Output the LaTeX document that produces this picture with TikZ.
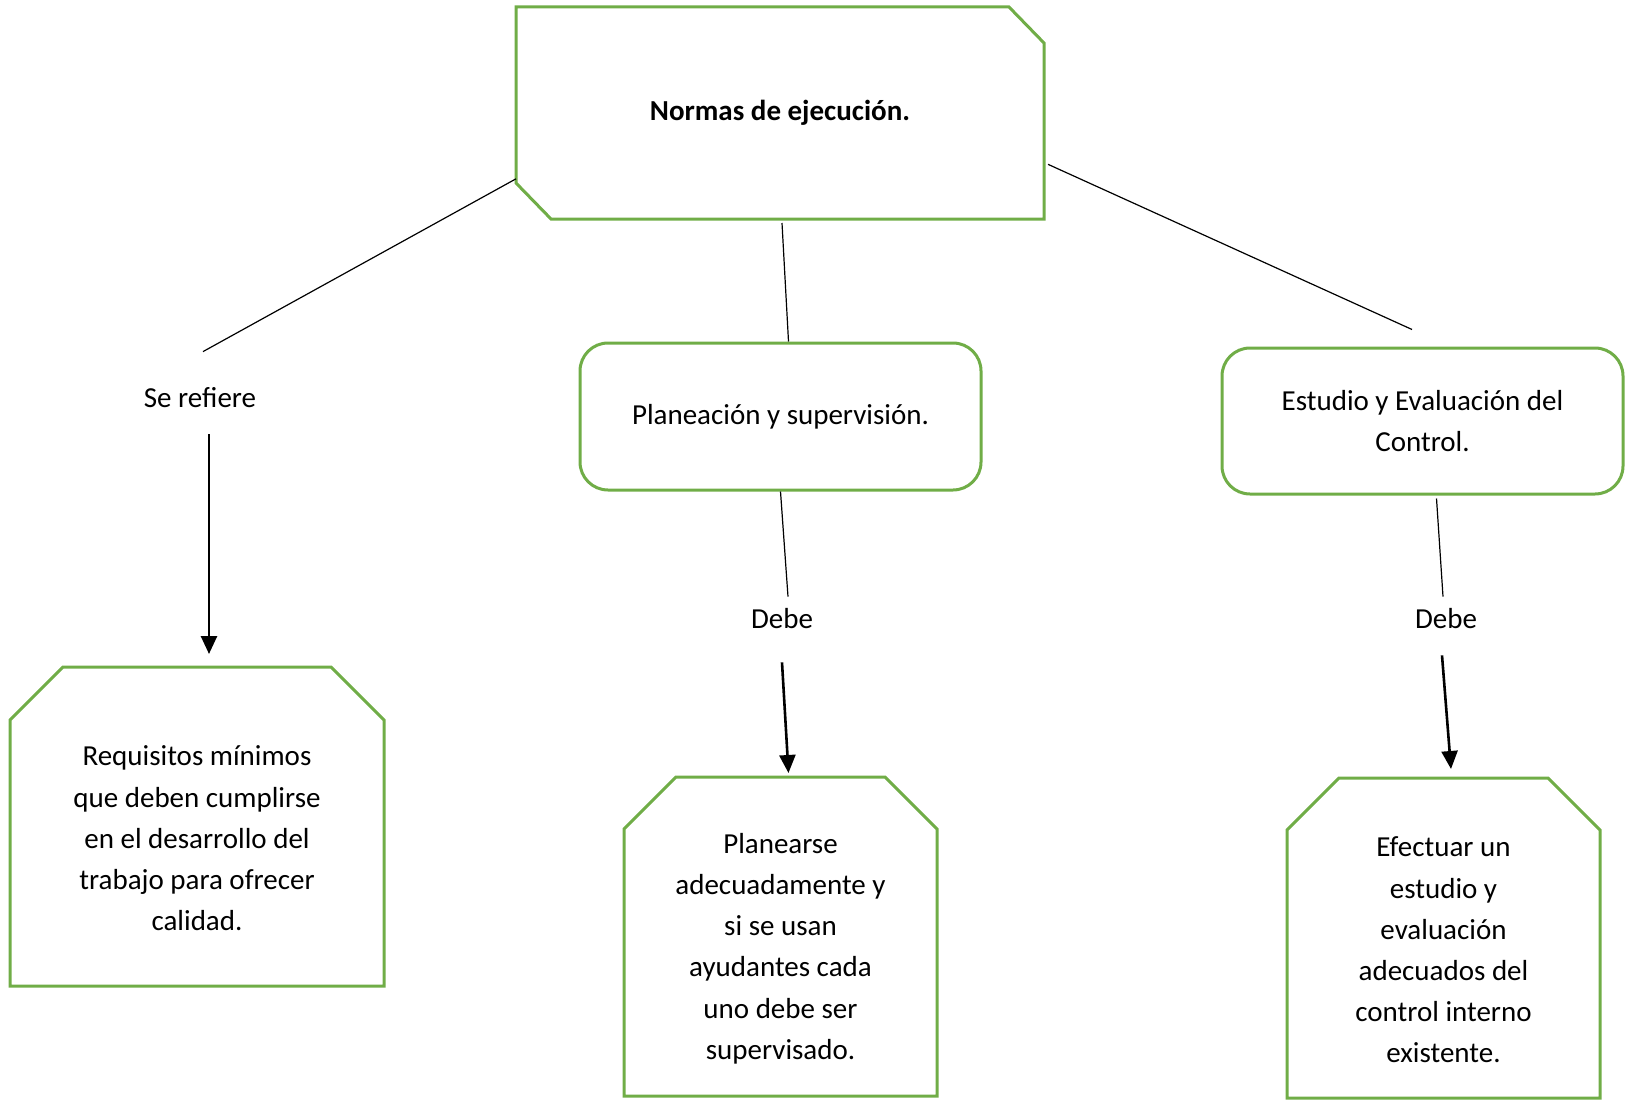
\documentclass[tikz,border=0pt]{standalone}
\usepackage{fontspec}
\setmainfont{Carlito}
\usepackage{tikz}
\usetikzlibrary{arrows.meta}

\definecolor{boxgreen}{RGB}{112,173,71}
\newcommand{\txtfont}{\fontsize{14.5}{20.6}\selectfont}
% outline of a box with both upper corners cut
\newcommand{\topcut}[2]{%
  \draw [boxline] ([yshift=-#2]#1.north west) -- ([xshift=#2]#1.north west)
    -- ([xshift=-#2]#1.north east) -- ([yshift=-#2]#1.north east)
    -- (#1.south east) -- (#1.south west) -- cycle;}

\tikzset{
  boxline/.style={draw=boxgreen, line width=1.5pt, line join=miter},
  chambox/.style={rectangle, inner sep=0pt, outer sep=0pt},
  roundbox/.style={rectangle, rounded corners=14pt, draw=boxgreen, line width=1.5pt,
                   align=center, font=\txtfont},
  boxtext/.style={label={[font=\txtfont, align=center, yshift=-6pt]center:{#1}}},
  linklabel/.style={font=\txtfont, text height=11.5pt, text depth=1.5pt, inner sep=4pt},
  link/.style={draw=black, line width=0.6pt},
  arr/.style={-{Triangle[width=8pt,length=9pt]}, line width=1.3pt},
}

\begin{document}
\begin{tikzpicture}[x=0.5pt, y=-0.5pt]
      \useasboundingbox (0,0) rectangle (1627,1102);
      %\draw [dotted] (0,0) grid[step=100] (1627,1102);
      \node [chambox, minimum width=264pt, minimum height=106pt, font=\txtfont\bfseries]
                               (norm) at ( 780,  113) {Normas de ejecución.};
      \node [linklabel]       (seref) at ( 200,  397) {Se refiere};
      \node [roundbox, minimum width=200.5pt, minimum height=73.5pt]
                               (plan) at ( 780.5, 416.5) {Planeación y supervisión.};
      \node [roundbox, minimum width=200.5pt, minimum height=73pt]
                                (est) at (1422.5, 421) {Estudio y Evaluación del\\Control.};
      \node [linklabel]       (debe1) at ( 782,  618) {Debe};
      \node [linklabel]       (debe2) at (1446,  618) {Debe};
      \node [chambox, minimum width=187pt, minimum height=159.5pt,
             boxtext={Requisitos mínimos\\que deben cumplirse\\en el desarrollo del\\trabajo para ofrecer\\calidad.}]
                                (req) at ( 197,  826.5) {};
      \node [chambox, minimum width=156.5pt, minimum height=159.5pt,
             boxtext={Planearse\\adecuadamente y\\si se usan\\ayudantes cada\\uno debe ser\\supervisado.}]
                                (sup) at ( 780.5, 936.5) {};
      \node [chambox, minimum width=156.5pt, minimum height=160pt,
             boxtext={Efectuar un\\estudio y\\evaluación\\adecuados del\\control interno\\existente.}]
                                (exi) at (1443.5, 938) {};
      % box outlines
      \draw [boxline] (norm.north west) -- ([xshift=-17.5pt]norm.north east)
        -- ([yshift=-18pt]norm.north east) -- (norm.south east)
        -- ([xshift=17.5pt]norm.south west) -- ([yshift=18pt]norm.south west) -- cycle;
      \topcut{req}{26.5pt}
      \topcut{sup}{26pt}
      \topcut{exi}{26pt}
      % connectors
      \draw [link] (norm.194) -- ([xshift=1.5pt,yshift=12pt]seref.north);
      \draw [link] ([xshift=1pt,yshift=-2pt]norm.south) -- ([xshift=4pt]plan.north);
      \draw [link] ([xshift=2pt]norm.-11) -- ([xshift=-5.25pt,yshift=8.5pt]est.north);
      \draw [link] (plan.south) -- ([xshift=3pt]debe1.north);
      \draw [link] ([xshift=7pt,yshift=-1.5pt]est.south) -- ([xshift=-1.5pt]debe2.north);
      \draw [arr] ([xshift=4.5pt,yshift=-8pt]seref.south) -- ([xshift=6pt,yshift=6.5pt]req.north);
      \draw [arr] ([yshift=-11.5pt]debe1.south) -- ([xshift=4pt,yshift=2pt]sup.north);
      \draw [arr] ([xshift=-2pt,yshift=-8pt]debe2.south) -- ([xshift=3.75pt,yshift=4.5pt]exi.north);
\end{tikzpicture}
\end{document}
